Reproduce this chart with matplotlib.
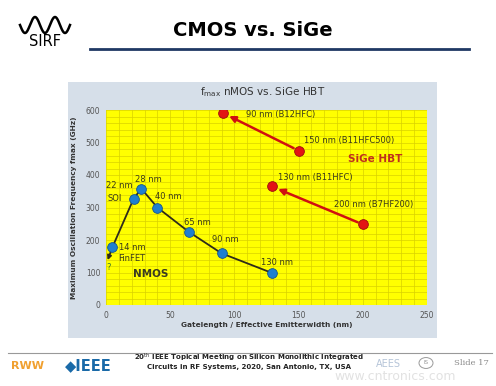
import numpy as np
import matplotlib
matplotlib.use('Agg')
from matplotlib import pyplot as plt
from matplotlib.patches import Rectangle, Circle

# NMOS: gate length (nm) vs fmax (GHz)
nmos_x = [5, 21.5, 27.5, 40, 64.5, 90, 129]
nmos_y = [178, 327, 358, 300, 225, 159, 99]
nmos_labels = ['14 nm', '22 nm', '28 nm', '40 nm', '65 nm', '90 nm', '130 nm']

# SiGe HBT: effective emitter width (nm) vs fmax (GHz)
sige_x = [91, 150, 129, 200]
sige_y = [591, 475, 365, 248]
sige_labels = ['90 nm (B12HFC)', '150 nm (B11HFC500)', '130 nm (B11HFC)', '200 nm (B7HF200)']

W, H = 496, 386
fig = plt.figure(figsize=(W / 100, H / 100), dpi=100)
fig.patch.set_facecolor('white')

def fx(px):
    return px / W

def fy(py):
    return 1 - py / H

# --- slide header ---
fig.text(fx(253), fy(31), 'CMOS vs. SiGe', ha='center', va='center',
         fontsize=14, fontweight='bold', color='black')
fig.add_artist(plt.Line2D([fx(90), fx(469)], [fy(49), fy(49)], color='#1f3864', lw=2))

# SIRF logo (decoration)
t = np.linspace(0, 1, 200)
fig.add_artist(plt.Line2D(fx(20 + 50 * t), fy(25 - 8 * np.sin(2 * np.pi * 2.5 * t + np.pi)),
                          color='black', lw=1.8))
fig.text(fx(45), fy(42), 'SIRF', ha='center', va='center', fontsize=10.5, color='black')

# --- chart panel ---
fig.add_artist(Rectangle((fx(68), fy(338)), fx(437) - fx(68), fy(82) - fy(338),
                         transform=fig.transFigure, facecolor='#d6dfe9', edgecolor='none', zorder=0))

ax = fig.add_axes([fx(106), fy(305), fx(427) - fx(106), fy(110) - fy(305)])
ax.set_facecolor('#ffff00')
ax.set_xlim(0, 250)
ax.set_ylim(0, 600)
ax.set_xticks(np.arange(0, 251, 50))
ax.set_yticks(np.arange(0, 601, 100))
ax.set_xticks(np.arange(0, 251, 10), minor=True)
ax.set_yticks(np.arange(0, 601, 20), minor=True)
ax.grid(True, which='both', color='#d9d200', lw=0.5)
ax.set_axisbelow(True)
for s in ax.spines.values():
    s.set_visible(False)
ax.tick_params(which='both', length=0, labelsize=5.5, labelcolor='#555555', pad=4)

ax.set_xlabel('Gatelength / Effective Emitterwidth (nm)', fontsize=5.3,
              fontweight='bold', color='#333333', labelpad=2)
ax.set_ylabel('Maximum Oscillation Frequency fmax (GHz)', fontsize=5.3,
              fontweight='bold', color='#333333', labelpad=6)
fig.text(fx(263), fy(92), r'f$_{\mathrm{max}}$ nMOS vs. SiGe HBT', ha='center', va='center',
         fontsize=7.5, color='#333333')

# NMOS trend curve
ax.plot(nmos_x, nmos_y, color='#2e2b1a', lw=1.3, zorder=2)
ax.annotate('', xy=(1.3, 138), xytext=(nmos_x[0], nmos_y[0]),
            arrowprops=dict(arrowstyle='-|>', color='#2e2b1a', lw=1.3,
                            mutation_scale=6, shrinkA=0, shrinkB=0))
ax.plot(nmos_x, nmos_y, 'o', ms=7, color='#1e7fd0', mec='#15568c', mew=0.6, zorder=3)

# SiGe arrows (older node -> newer node)
for a, b in [(1, 0), (3, 2)]:
    ax.annotate('', xy=(sige_x[b], sige_y[b]), xytext=(sige_x[a], sige_y[a]),
                arrowprops=dict(arrowstyle='-|>', color='#d01010', lw=1.8,
                                mutation_scale=9, shrinkA=4, shrinkB=5), zorder=2)
ax.plot(sige_x, sige_y, 'o', ms=7, color='#e31414', mec='#9a0e0e', mew=0.6, zorder=3)

# labels
lab = dict(fontsize=6, color='#3a3a1a', ha='center', va='center', textcoords='offset points')
nmos_off = [(14.2, 0), (-10.3, 9.6), (4.9, 6.7), (8.2, 7.6), (6.3, 6.5), (2.5, 10), (4, 7.2)]
for x, y, s, o in zip(nmos_x, nmos_y, nmos_labels, nmos_off):
    ax.annotate(s, (x, y), xytext=o, **lab)
ax.annotate('FinFET', (nmos_x[0], nmos_y[0]), xytext=(14.2, -7.9), **lab)
ax.annotate('SOI', (nmos_x[1], nmos_y[1]), xytext=(-13.9, 0), **lab)
ax.annotate('?', (nmos_x[0], nmos_y[0]), xytext=(-2.4, -14.4), fontsize=6, color='#3a7a2a',
            ha='center', va='center', textcoords='offset points')

sige_off = [(41.5, -1.2), (36.5, 7.2), (31.7, 6.7), (7.8, 14.4)]
for x, y, s, o in zip(sige_x, sige_y, sige_labels, sige_off):
    ax.annotate(s, (x, y), xytext=o, **lab)

ax.text(210, 449, 'SiGe HBT', fontsize=7.5, fontweight='bold', color='#c0301c',
        ha='center', va='center')
ax.text(35, 95, 'NMOS', fontsize=7.5, fontweight='bold', color='#3a3a22',
        ha='center', va='center')

# --- footer ---
fig.add_artist(plt.Line2D([fx(8), fx(492)], [fy(352.5), fy(352.5)], color='#999999', lw=0.8))
fig.text(fx(28), fy(366), 'RWW', ha='center', va='center', fontsize=8,
         fontweight='bold', color='#f0a030')
fig.text(fx(88), fy(366), '\u25c6IEEE', ha='center', va='center', fontsize=10.5,
         fontweight='bold', color='#1a6aa8')
fig.text(fx(249), fy(357.5), '20$^{\\mathrm{th}}$ IEEE Topical Meeting on Silicon Monolithic Integrated',
         ha='center', va='center', fontsize=5, fontweight='bold', color='#222222')
fig.text(fx(249), fy(366.5), 'Circuits in RF Systems, 2020, San Antonio, TX, USA',
         ha='center', va='center', fontsize=5, fontweight='bold', color='#222222')
fig.text(fx(388), fy(364), 'AEES', ha='center', va='center', fontsize=7,
         color='#b5c4d8')
fig.add_artist(Circle((fx(426), fy(363)), 7 / W, transform=fig.transFigure,
                      facecolor='none', edgecolor='#999999', lw=0.7))
fig.text(fx(426), fy(363), 'IS', ha='center', va='center', fontsize=4, color='#999999')
fig.text(fx(471), fy(363), 'Slide 17', ha='center', va='center', fontsize=6,
         family='DejaVu Serif', color='#888888')
fig.text(fx(395), fy(376), 'www.cntronics.com', ha='center', va='center', fontsize=9,
         color='#e2e2e2')

fig.savefig('out.png', dpi=100)
